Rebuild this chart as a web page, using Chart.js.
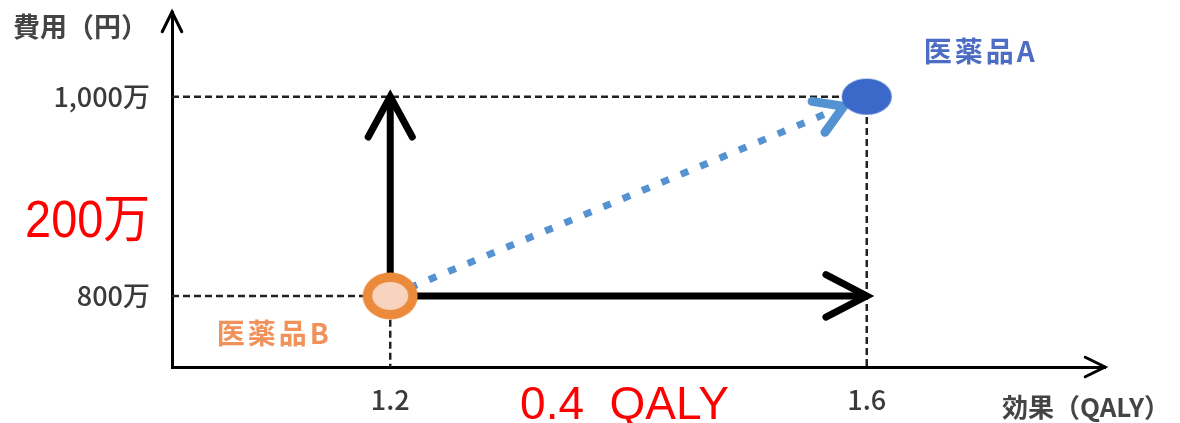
<!DOCTYPE html>
<html lang="ja">
<head>
<meta charset="utf-8">
<title>費用対効果</title>
<script src="https://cdn.jsdelivr.net/npm/chart.js@4.4.1/dist/chart.umd.min.js"></script>
<style>
  html, body { margin: 0; padding: 0; background: #ffffff; }
  canvas { display: block; }
</style>
</head>
<body>
<canvas id="cea" width="1180" height="423"></canvas>
<script>
// Products compared: effect in QALY, cost in 万円
const products = ['医薬品A', '医薬品B'];
const effectQaly = [1.6, 1.2];
const costMan = [1000, 800];

// Axis ticks and their labels
const xTickValues = [1.2, 1.6];
const xTickLabels = ['1.2', '1.6'];
const yTickValues = [800, 1000];
const yTickLabels = ['800万', '1,000万'];

// Visible axis ranges
const xRange = [1.0168, 1.80];
const yRange = [728.6, 1085];

// Axis titles
const yTitle = '費用（円）';
const xTitle = '効果（QALY）';

const iA = 0, iB = 1;
const deltaCost = costMan[iA] - costMan[iB];
const deltaQaly = effectQaly[iA] - effectQaly[iB];
const deltaCostLabel = deltaCost + '万';
const deltaQalyLabel = deltaQaly.toFixed(1) + '  QALY';

const CJK = "'Noto Sans CJK JP', 'Noto Sans', sans-serif";
const productColors = ['#4d6dc4', '#f0925a'];

// Marker images: filled blue oval for A, orange ring for B
function ovalA() {
  const c = document.createElement('canvas');
  c.width = 52; c.height = 38;
  const g = c.getContext('2d');
  g.fillStyle = '#3b69c9';
  g.beginPath(); g.ellipse(26, 19, 25, 18, 0, 0, Math.PI * 2); g.fill();
  return c;
}
function ringB() {
  const c = document.createElement('canvas');
  c.width = 56; c.height = 48;
  const g = c.getContext('2d');
  g.fillStyle = '#ec8a3b';
  g.beginPath(); g.ellipse(28, 24, 27.5, 23.5, 0, 0, Math.PI * 2); g.fill();
  g.fillStyle = '#f8d3bd';
  g.beginPath(); g.ellipse(28, 24, 18, 14, 0, 0, Math.PI * 2); g.fill();
  return c;
}

function guide(i) {
  return [
    { x: xRange[0], y: costMan[i] },
    { x: effectQaly[i], y: costMan[i] },
    { x: effectQaly[i], y: yRange[0] }
  ];
}

function chevron(ctx, tipX, tipY, angle, len, spread, width, color) {
  ctx.save();
  ctx.strokeStyle = color;
  ctx.lineWidth = width;
  ctx.lineJoin = 'miter';
  ctx.lineCap = 'round';
  ctx.beginPath();
  ctx.moveTo(tipX - len * Math.cos(angle - spread), tipY - len * Math.sin(angle - spread));
  ctx.lineTo(tipX, tipY);
  ctx.lineTo(tipX - len * Math.cos(angle + spread), tipY - len * Math.sin(angle + spread));
  ctx.stroke();
  ctx.restore();
}

const decor = {
  id: 'decor',
  beforeDraw(chart) {
    const { ctx, width, height } = chart;
    ctx.save();
    ctx.fillStyle = '#ffffff';
    ctx.fillRect(0, 0, width, height);
    ctx.restore();
  },
  afterDatasetDraw(chart, args) {
    const ds = chart.data.datasets[args.index];
    if (!ds.arrow) return;
    const pts = args.meta.data;
    const p1 = pts[pts.length - 2], p2 = pts[pts.length - 1];
    const ang = Math.atan2(p2.y - p1.y, p2.x - p1.x);
    const inset = ds.arrow.inset || 0;
    const tx = p2.x - inset * Math.cos(ang), ty = p2.y - inset * Math.sin(ang);
    chevron(chart.ctx, tx, ty, ang, ds.arrow.len, ds.arrow.spread, ds.arrow.width || ds.borderWidth, ds.borderColor);
  },
  afterDraw(chart) {
    const { ctx, chartArea: a, scales: { x, y } } = chart;
    // axis arrowheads
    chevron(ctx, a.left, a.top, -Math.PI / 2, 22, 0.46, 3, '#000');
    chevron(ctx, a.right, a.bottom, 0, 22, 0.46, 3, '#000');

    ctx.save();
    // axis titles
    ctx.fillStyle = '#444444';
    ctx.font = `bold 27px ${CJK}`;
    ctx.textBaseline = 'middle';
    ctx.textAlign = 'left';
    ctx.fillText(yTitle, 13, 27);
    ctx.font = `bold 26px ${CJK}`;
    ctx.fillText(xTitle, a.left + 830, a.bottom + 40);

    // product labels
    const pa = { x: x.getPixelForValue(effectQaly[iA]), y: y.getPixelForValue(costMan[iA]) };
    const pb = { x: x.getPixelForValue(effectQaly[iB]), y: y.getPixelForValue(costMan[iB]) };
    ctx.font = `bold 28px ${CJK}`;
    ctx.letterSpacing = '3px';
    ctx.textAlign = 'center';
    ctx.fillStyle = productColors[iA];
    ctx.fillText(products[iA], pa.x + 114, pa.y - 45);
    ctx.fillStyle = productColors[iB];
    ctx.fillText(products[iB], pb.x - 116, pb.y + 37);
    ctx.letterSpacing = '0px';

    // difference labels
    ctx.fillStyle = '#ff0000';
    ctx.textBaseline = 'alphabetic';
    const midY = (y.getPixelForValue(costMan[iA]) + y.getPixelForValue(costMan[iB])) / 2;
    ctx.save();
    ctx.translate(a.left - 22, midY + 41);
    ctx.scale(0.9, 1);
    ctx.textAlign = 'right';
    ctx.font = `52px 'Liberation Sans', ${CJK}`;
    ctx.fillText(deltaCostLabel, 0, 0);
    ctx.restore();
    const midX = (pa.x + pb.x) / 2;
    ctx.textAlign = 'center';
    ctx.font = `46px 'Liberation Sans', ${CJK}`;
    ctx.fillText(deltaQalyLabel, midX - 4, a.bottom + 52);
    ctx.restore();
  }
};

new Chart(document.getElementById('cea'), {
  type: 'scatter',
  data: {
    datasets: [
      {
        label: products.join(' / '),
        data: effectQaly.map((q, i) => ({ x: q, y: costMan[i] })),
        pointStyle: [ovalA(), ringB()],
        pointRadius: 20,
        order: 0
      },
      {
        label: 'B→A',
        data: [{ x: effectQaly[iB], y: costMan[iB] }, { x: effectQaly[iA], y: costMan[iA] }],
        showLine: true,
        borderColor: '#5592d2',
        borderWidth: 7,
        borderDash: [8, 13],
        borderCapStyle: 'butt',
        pointRadius: 0,
        arrow: { len: 32, spread: 0.55, inset: 25, width: 9 },
        order: 1
      },
      {
        label: 'cost',
        data: [{ x: effectQaly[iB], y: costMan[iB] }, { x: effectQaly[iB], y: costMan[iA] }],
        showLine: true,
        borderColor: '#000000',
        borderWidth: 7,
        pointRadius: 0,
        arrow: { len: 46, spread: 0.5 },
        order: 2
      },
      {
        label: 'effect',
        data: [{ x: effectQaly[iB], y: costMan[iB] }, { x: effectQaly[iA], y: costMan[iB] }],
        showLine: true,
        borderColor: '#000000',
        borderWidth: 7,
        pointRadius: 0,
        arrow: { len: 46, spread: 0.48 },
        order: 2
      },
      {
        label: 'guide A',
        data: guide(iA),
        showLine: true,
        borderColor: '#222222',
        borderWidth: 2.5,
        borderDash: [7, 4],
        pointRadius: 0,
        order: 3
      },
      {
        label: 'guide B',
        data: guide(iB),
        showLine: true,
        borderColor: '#222222',
        borderWidth: 2.5,
        borderDash: [7, 4],
        pointRadius: 0,
        order: 3
      }
    ]
  },
  options: {
    responsive: false,
    animation: false,
    devicePixelRatio: 1,
    events: [],
    layout: { autoPadding: false, padding: { top: 12, right: 75, left: 0, bottom: 0 } },
    plugins: { legend: { display: false }, tooltip: { enabled: false } },
    scales: {
      x: {
        type: 'linear',
        min: xRange[0],
        max: xRange[1],
        grid: { display: false, drawTicks: false },
        border: { display: true, color: '#000000', width: 3 },
        ticks: {
          padding: 17,
          color: '#3a3a3a',
          font: { family: CJK, size: 27, weight: '500' },
          autoSkip: false,
          maxRotation: 0,
          callback: (v) => xTickLabels[xTickValues.indexOf(v)]
        },
        afterBuildTicks: (s) => { s.ticks = xTickValues.map((v) => ({ value: v })); },
        afterFit: (s) => { s.height = 56; s.paddingLeft = 0; s.paddingRight = 0; }
      },
      y: {
        type: 'linear',
        min: yRange[0],
        max: yRange[1],
        grid: { display: false, drawTicks: false },
        border: { display: true, color: '#000000', width: 3 },
        ticks: {
          padding: 22,
          color: '#3a3a3a',
          font: { family: CJK, size: 27, weight: '500' },
          autoSkip: false,
          callback: (v) => yTickLabels[yTickValues.indexOf(v)]
        },
        afterBuildTicks: (s) => { s.ticks = yTickValues.map((v) => ({ value: v })); },
        afterFit: (s) => { s.width = 172; s.paddingTop = 0; s.paddingBottom = 0; }
      }
    }
  },
  plugins: [decor]
});
</script>
</body>
</html>
